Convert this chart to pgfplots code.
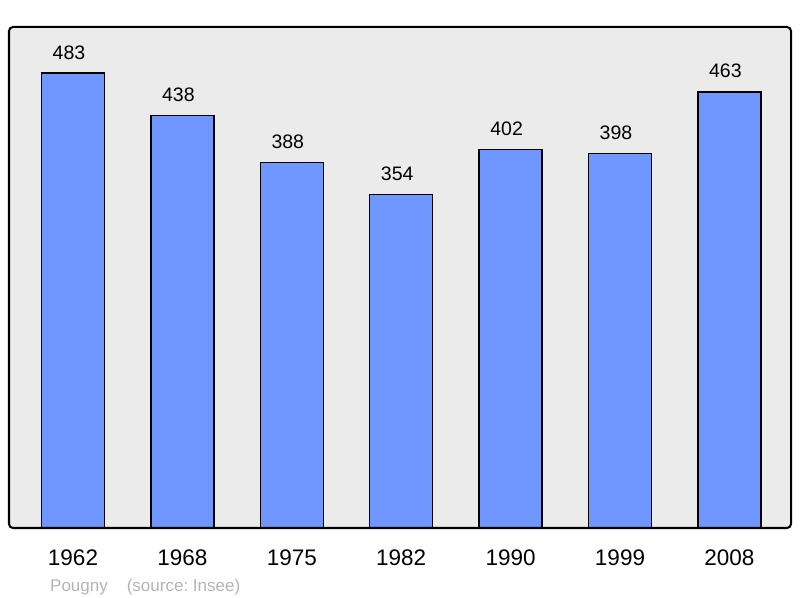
\documentclass[border=0pt]{standalone}
\usepackage{pgfplots}
\pgfplotsset{compat=1.18}
\usepackage{fontspec}
\setmainfont{Liberation Sans}
\definecolor{barfill}{RGB}{112,150,255}
\definecolor{bgfill}{RGB}{235,235,235}
\definecolor{srcgray}{RGB}{180,180,180}
\begin{document}
\begin{tikzpicture}
\path[use as bounding box] (0,0) rectangle (800bp,598bp);
\begin{axis}[
  at={(9bp,70bp)}, anchor=south west,
  scale only axis, width=782bp, height=501bp,
  xmin=-0.585, xmax=6.563, ymin=0, ymax=532,
  /pgf/number format/assume math mode=true,
  axis line style={draw=none},
  axis background/.style={fill=bgfill},
  ytick=\empty,
  xtick={0,1,2,3,4,5,6},
  xticklabels={1962,1968,1975,1982,1990,1999,2008},
  major tick length=0pt,
  xticklabel style={font=\fontsize{22.5bp}{26bp}\selectfont, anchor=base, yshift=-37bp},
  ybar, bar width=63bp, bar shift=0pt,
  nodes near coords,
  every node near coord/.append style={font=\fontsize{19.5bp}{23bp}\selectfont, anchor=base, yshift=14bp, xshift=-4bp, inner sep=0pt},
  clip=false,
]
\addplot[fill=barfill, draw=black, line width=1.3bp] coordinates {
 (0,483) (1,438) (2,388) (3,354) (4,402) (5,398) (6,463)
};
\draw[line width=2bp, rounded corners=4bp] (rel axis cs:0,0) rectangle (rel axis cs:1,1);
\end{axis}
\node[anchor=base west, inner sep=0pt, text=srcgray, font=\fontsize{17bp}{20bp}\selectfont] at (50bp,7bp) {\frenchspacing Pougny\hspace{19bp}(source: Insee)};
\end{tikzpicture}
\end{document}
